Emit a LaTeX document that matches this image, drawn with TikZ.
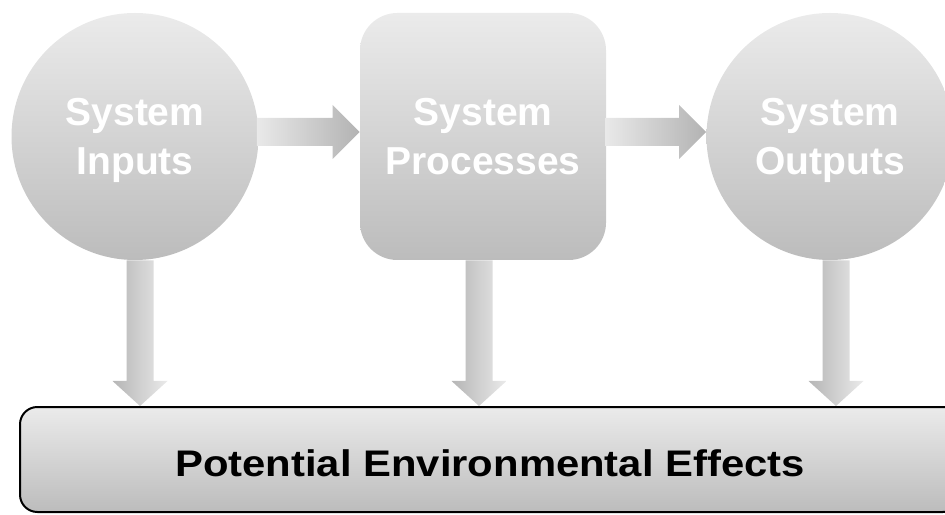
\documentclass[tikz,border=0pt]{standalone}
\usepackage{fontspec}
\usetikzlibrary{calc}
\newfontfamily\labelfont{Liberation Sans}
\newfontfamily\effectfont[FakeStretch=1.13]{Liberation Sans}
\definecolor{lighttop}{HTML}{EBEBEB}
\definecolor{darkbot}{HTML}{BCBCBC}
\tikzset{
  stage/.style={top color=lighttop,bottom color=darkbot,inner sep=0pt,align=center,
    text=white,font=\labelfont\bfseries\fontsize{29.25pt}{36.75pt}\selectfont},
  harrow/.style={left color=lighttop!110,right color=darkbot!95!black},
  varrow/.style={left color=darkbot!110,right color=lighttop!105}
}
% wide block arrow: tail coordinate, tip coordinate
\newcommand\sidearrow[2]{%
  \shade[harrow] ($(#1)+(0,14)$) -- ($(#2)+(-27,14)$) -- ($(#2)+(-27,27)$) -- (#2)
    -- ($(#2)+(-27,-27)$) -- ($(#2)+(-27,-14)$) -- ($(#1)+(0,-14)$) -- cycle;}
\newcommand\droparrow[2]{%
  \shade[varrow] ($(#1)+(-13.5,0)$) -- ($(#2)+(-13.5,25)$) -- ($(#2)+(-27.5,25)$) -- (#2)
    -- ($(#2)+(27.5,25)$) -- ($(#2)+(13.5,25)$) -- ($(#1)+(13.5,0)$) -- cycle;}
\begin{document}
\begin{tikzpicture}[x=.75pt,y=.75pt]
\useasboundingbox (0,0) rectangle (945,514);
\node[stage,circle,minimum size=185.25pt] (inp) at (135,377.5) {System\\\smash{Inputs}};
\node[stage,rectangle,rounded corners=28pt,minimum width=184.5pt,minimum height=185.25pt] (proc) at (483,377.5) {System\\Processes};
\node[stage,circle,minimum size=185.25pt] (outp) at (830,377.5) {System\\\smash{Outputs}};
\node[draw=black,line width=1.5pt,rounded corners=13pt,top color=lighttop,bottom color=darkbot,
  minimum width=705pt,minimum height=78.75pt,text height=26pt,
  font=\effectfont\bfseries\fontsize{27.75pt}{33pt}\selectfont] (env) at (490,54.5) {Potential Environmental Effects};
% arrows between the stages
\coordinate (a1) at ($(inp.east)+(-2,4.5)$);
\coordinate (b1) at ($(proc.west)+(0,4.5)$);
\coordinate (a2) at ($(proc.east)+(-1,4.5)$);
\coordinate (b2) at ($(outp.west)+(0,4.5)$);
\sidearrow{a1}{b1}
\sidearrow{a2}{b2}
% arrows down to the effects
\foreach \st/\dx in {inp/5,proc/-4,outp/6}{
  \coordinate (t) at ($(\st.south)+(\dx,0)$);
  \coordinate (h) at (t |- env.north);
  \droparrow{t}{h}
}
\end{tikzpicture}
\end{document}
